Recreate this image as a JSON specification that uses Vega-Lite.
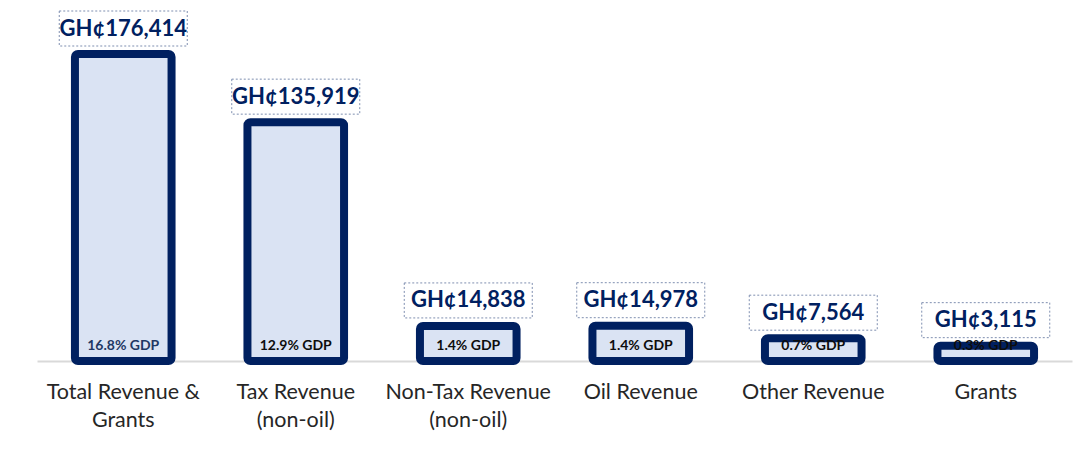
{
  "$schema": "https://vega.github.io/schema/vega-lite/v6.json",
  "width": 1035,
  "height": 307,
  "autosize": {"type": "none"},
  "padding": {"left": 37, "top": 54, "right": 20, "bottom": 89},
  "background": "white",
  "config": {"view": {"stroke": null}, "font": "Lato"},
  "data": {
    "values": [
      {"category": "Total Revenue &|Grants", "value": 176414, "label": "GH¢176,414", "gdp": "16.8% GDP"},
      {"category": "Tax Revenue|(non-oil)", "value": 135919, "label": "GH¢135,919", "gdp": "12.9% GDP"},
      {"category": "Non-Tax Revenue|(non-oil)", "value": 14838, "label": "GH¢14,838", "gdp": "1.4% GDP"},
      {"category": "Oil Revenue", "value": 14978, "label": "GH¢14,978", "gdp": "1.4% GDP"},
      {"category": "Other Revenue", "value": 7564, "label": "GH¢7,564", "gdp": "0.7% GDP"},
      {"category": "Grants", "value": 3115, "label": "GH¢3,115", "gdp": "0.3% GDP"}
    ]
  },
  "encoding": {
    "x": {
      "field": "category",
      "type": "nominal",
      "sort": null,
      "scale": {"paddingInner": 0.44, "paddingOuter": 0.22},
      "axis": {
        "title": null,
        "labelAngle": 0,
        "labelExpr": "split(datum.label, '|')",
        "labelFont": "Lato",
        "labelFontSize": 21.5,
        "labelColor": "#262626",
        "labelLineHeight": 28,
        "labelPadding": 20,
        "labelLimit": 0,
        "ticks": false,
        "domainColor": "#d9d9d9",
        "domainWidth": 2,
        "grid": false
      }
    }
  },
  "layer": [
    {
      "mark": {"type": "bar", "fill": "#dae3f3", "stroke": "#002060", "strokeWidth": 8, "cornerRadius": 3},
      "encoding": {
        "y": {"field": "value", "type": "quantitative", "scale": {"domain": [-6000, 176414], "nice": false, "zero": false}, "axis": null},
        "y2": {"datum": -6000}
      }
    },
    {
      "mark": {"type": "bar", "width": 128, "fill": null, "fillOpacity": 0, "stroke": "#7f8fb0", "strokeWidth": 1, "strokeDash": [2, 2], "yOffset": -43, "y2Offset": -8},
      "encoding": {
        "y": {"field": "value", "type": "quantitative"},
        "y2": {"field": "value"}
      }
    },
    {
      "mark": {"type": "text", "font": "Lato", "fontSize": 22, "fontWeight": "bold", "color": "#002060", "baseline": "middle", "yOffset": -25.5},
      "encoding": {
        "y": {"field": "value", "type": "quantitative"},
        "text": {"field": "label"}
      }
    },
    {
      "mark": {"type": "text", "font": "Lato", "fontSize": 14, "fontWeight": "bold", "baseline": "middle", "yOffset": -15},
      "encoding": {
        "y": {"datum": -6000},
        "text": {"field": "gdp"},
        "color": {
          "condition": {"test": "datum.value > 150000", "value": "#1f3864"},
          "value": "#0d0d0d"
        }
      }
    }
  ]
}
